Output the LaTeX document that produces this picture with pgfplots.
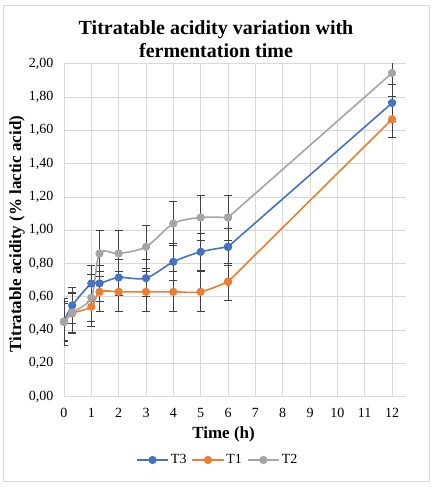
\documentclass[border=0pt]{standalone}
\usepackage{pgfplots}
\pgfplotsset{compat=1.18}
\usepackage{pgfplotstable}
\usepackage{fontspec}
\setmainfont{Liberation Serif}
\definecolor{cT3}{HTML}{4472C4}
\definecolor{cT1}{HTML}{ED7D31}
\definecolor{cT2}{HTML}{A5A5A5}
\definecolor{ebar}{HTML}{404040}
\definecolor{gridc}{HTML}{D9D9D9}

\pgfplotstableread{
x y e
0 0.45 0.11
0.3 0.548 0.11
1 0.68 0.11
1.3 0.68 0.11
2 0.716 0.11
3 0.712 0.11
4 0.81 0.11
5 0.87 0.11
6 0.90 0.11
}\tthree
\pgfplotstableread{
x y e
6 0.90 0.11
12 1.764 0.11
}\tthreeb
\pgfplotstableread{
x y e
0 0.45 0.12
0.3 0.50 0.12
1 0.54 0.12
1.3 0.63 0.12
2 0.63 0.12
3 0.63 0.12
4 0.63 0.12
5 0.63 0.12
6 0.69 0.11
}\tone
\pgfplotstableread{
x y e
6 0.69 0.11
12 1.666 0.11
}\toneb
\pgfplotstableread{
x y e
0 0.45 0.14
0.3 0.505 0.12
1 0.594 0.14
1.3 0.86 0.14
2 0.86 0.14
3 0.90 0.13
4 1.04 0.13
5 1.076 0.135
6 1.076 0.135
}\ttwo
\pgfplotstableread{
x y e
6 1.076 0.135
12 1.944 0.14
}\ttwob

\begin{document}
\begin{tikzpicture}
\path[fill=white] (-64pt,-90.3pt) rectangle (368pt,396.7pt);
\draw[color=gridc, line width=0.8pt] (-61pt,-84.3pt) rectangle (365pt,391.7pt);
\begin{axis}[
  scale only axis, width=341.7pt, height=333pt,
  xmin=0, xmax=12.5, ymin=0, ymax=2,
  xtick={0,1,2,3,4,5,6,7,8,9,10,11,12},
  ytick={0,0.2,0.4,0.6,0.8,1.0,1.2,1.4,1.6,1.8,2.0},
  grid=major, grid style={color=gridc, line width=0.6pt},
  axis x line*=bottom, axis y line*=left,
  axis line style={-, draw=gridc, line width=0.8pt},
  major tick length=0,
  /pgf/number format/assume math mode=true,
  tick label style={font=\fontsize{14}{14}\selectfont},
  yticklabel style={/pgf/number format/.cd, fixed, fixed zerofill, precision=2, use comma, /tikz/.cd, xshift=-7pt},
  xticklabel style={yshift=-8pt},
  xlabel={Time (h)},
  ylabel={Titratable acidity (\% lactic acid)},
  label style={font=\fontsize{17}{17}\selectfont\bfseries},
  xlabel style={at={(axis description cs:0.467,-0.112)}, anchor=center},
  ylabel style={at={(axis description cs:-0.1375,0.4886)}, anchor=center},
  title={Titratable acidity variation with\\fermentation time},
  title style={at={(axis description cs:0.445,1.056)}, anchor=center, align=center, font=\fontsize{20}{23}\selectfont\bfseries},
  legend style={at={(axis description cs:0.45,-0.19)}, anchor=center, legend columns=-1, draw=none, fill=none, font=\fontsize{14}{14}\selectfont, /tikz/every even column/.append style={column sep=3pt}},
  legend image code/.code={\draw[mark repeat=2,mark phase=2] plot coordinates {(0cm,0cm) (0.55cm,0cm) (1.1cm,0cm)};},
  error bars/error bar style={line width=0.9pt, color=ebar},
  error bars/error mark options={rotate=90, mark size=4pt, line width=0.9pt, color=ebar},
]
\addplot[color=cT3, line width=1.6pt, smooth, mark=*, mark size=3.3pt, mark options={fill=cT3, draw=cT3},
  error bars/.cd, y dir=both, y explicit] table[x=x, y=y, y error=e] {\tthree};
\addlegendentry{T3}
\addplot[color=cT1, line width=1.6pt, smooth, mark=*, mark size=3.3pt, mark options={fill=cT1, draw=cT1},
  error bars/.cd, y dir=both, y explicit] table[x=x, y=y, y error=e] {\tone};
\addlegendentry{T1}
\addplot[color=cT2, line width=1.6pt, smooth, mark=*, mark size=3.3pt, mark options={fill=cT2, draw=cT2},
  error bars/.cd, y dir=both, y explicit] table[x=x, y=y, y error=e] {\ttwo};
\addlegendentry{T2}
\addplot[forget plot, color=cT3, line width=1.6pt, mark=*, mark size=3.3pt, mark options={fill=cT3, draw=cT3},
  error bars/.cd, y dir=both, y explicit] table[x=x, y=y, y error=e] {\tthreeb};
\addplot[forget plot, color=cT1, line width=1.6pt, mark=*, mark size=3.3pt, mark options={fill=cT1, draw=cT1},
  error bars/.cd, y dir=both, y explicit] table[x=x, y=y, y error=e] {\toneb};
\addplot[forget plot, color=cT2, line width=1.6pt, mark=*, mark size=3.3pt, mark options={fill=cT2, draw=cT2},
  error bars/.cd, y dir=both, y explicit] table[x=x, y=y, y error=e] {\ttwob};
\end{axis}
\end{tikzpicture}
\end{document}
